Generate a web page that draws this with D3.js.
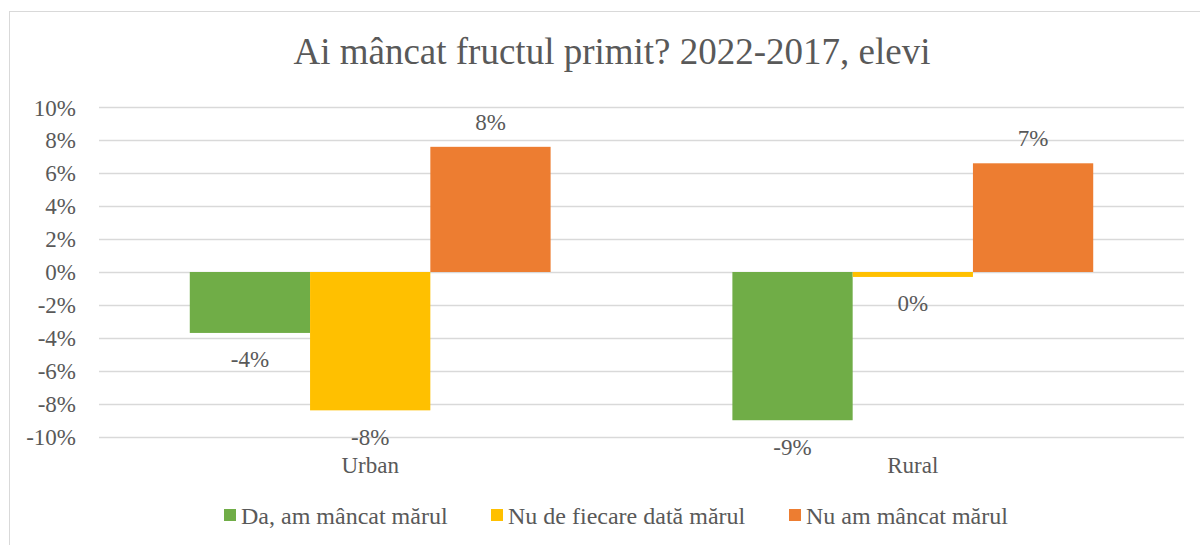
<!DOCTYPE html>
<html><head><meta charset="utf-8">
<script src="https://cdn.jsdelivr.net/npm/d3@7"></script>
<style>html,body{margin:0;padding:0;background:#fff;}svg{display:block;}</style>
</head><body>
<svg id="c" width="1200" height="545"></svg>
<script>
const title = "Ai mâncat fructul primit? 2022-2017, elevi";
const categories = ["Urban", "Rural"];
const seriesNames = ["Da, am mâncat mărul", "Nu de fiecare dată mărul", "Nu am mâncat mărul"];
const seriesColors = ["#70AD47", "#FFC000", "#ED7D31"];
const daValues = [-3.7, -9.0];
const nuFiecareValues = [-8.4, -0.3];
const nuAmValues = [7.6, 6.6];
const yTicks = [-10, -8, -6, -4, -2, 0, 2, 4, 6, 8, 10];

const seriesValues = [daValues, nuFiecareValues, nuAmValues];
const FONT = '"Liberation Serif"';
const svg = d3.select("#c");
const textColor = "#595959";

svg.append("rect").attr("x", 9.5).attr("y", 11.5).attr("width", 1200).attr("height", 545)
  .attr("fill", "#fff").attr("stroke", "#D9D9D9").attr("stroke-width", 1);

svg.append("text").attr("x", 612).attr("y", 64).attr("text-anchor", "middle")
  .attr("font-family", FONT).attr("font-size", 37).attr("fill", textColor).text(title);

const y = d3.scaleLinear().domain([-10, 10]).range([436.7, 107.3]);
const x0 = d3.scaleBand().domain(categories).range([99, 1184]).paddingInner(0.335).paddingOuter(0.1673);
const x1 = d3.scaleBand().domain(d3.range(seriesNames.length)).range([0, x0.bandwidth()]);

const grid = svg.append("g");
grid.selectAll("line").data(yTicks).join("line")
  .attr("x1", 99).attr("x2", 1184)
  .attr("y1", d => Math.round(y(d)) + 0.5).attr("y2", d => Math.round(y(d)) + 0.5)
  .attr("stroke", "#D9D9D9").attr("stroke-width", 1.3);

const yAxis = d3.axisLeft(y).tickValues(yTicks).tickSize(0).tickPadding(0).tickFormat(d => d + "%");
const ya = svg.append("g").attr("transform", "translate(76,0)").call(yAxis);
ya.attr("font-family", FONT).attr("font-size", 23);
ya.select(".domain").remove();
ya.selectAll("text").attr("fill", textColor).attr("dy", 7.7);

const groups = svg.append("g").selectAll("g").data(categories).join("g")
  .attr("transform", d => `translate(${x0(d)},0)`);

groups.each(function(cat, ci) {
  const g = d3.select(this);
  seriesValues.forEach((vals, si) => {
    const v = vals[ci];
    g.append("rect")
      .attr("x", x1(si)).attr("width", x1.bandwidth())
      .attr("y", Math.min(y(v), y(0))).attr("height", Math.abs(y(v) - y(0)))
      .attr("fill", seriesColors[si]);
    const lbl = Math.round(v) + "%";
    g.append("text").attr("x", x1(si) + x1.bandwidth() / 2)
      .attr("y", v >= 0 ? y(v) - 17 : y(v) + 34.5)
      .attr("text-anchor", "middle").attr("font-family", FONT).attr("font-size", 23)
      .attr("fill", textColor).text(lbl);
  });
});

const xa = svg.append("g").attr("transform", "translate(0,436.7)")
  .call(d3.axisBottom(x0).tickSize(0).tickPadding(0));
xa.attr("font-family", FONT).attr("font-size", 23);
xa.select(".domain").remove();
xa.selectAll("text").attr("fill", textColor).attr("dy", null).attr("y", 36.5);

const legendX = [224, 491, 789];
const lg = svg.append("g").selectAll("g").data(seriesNames).join("g")
  .attr("transform", (d, i) => `translate(${legendX[i]},0)`);
lg.append("rect").attr("x", 0).attr("y", 509).attr("width", 12).attr("height", 12)
  .attr("fill", (d, i) => seriesColors[i]);
lg.append("text").attr("x", 17).attr("y", 524).attr("font-family", FONT).attr("font-size", 24)
  .attr("fill", textColor).text(d => d);
</script>
</body></html>
